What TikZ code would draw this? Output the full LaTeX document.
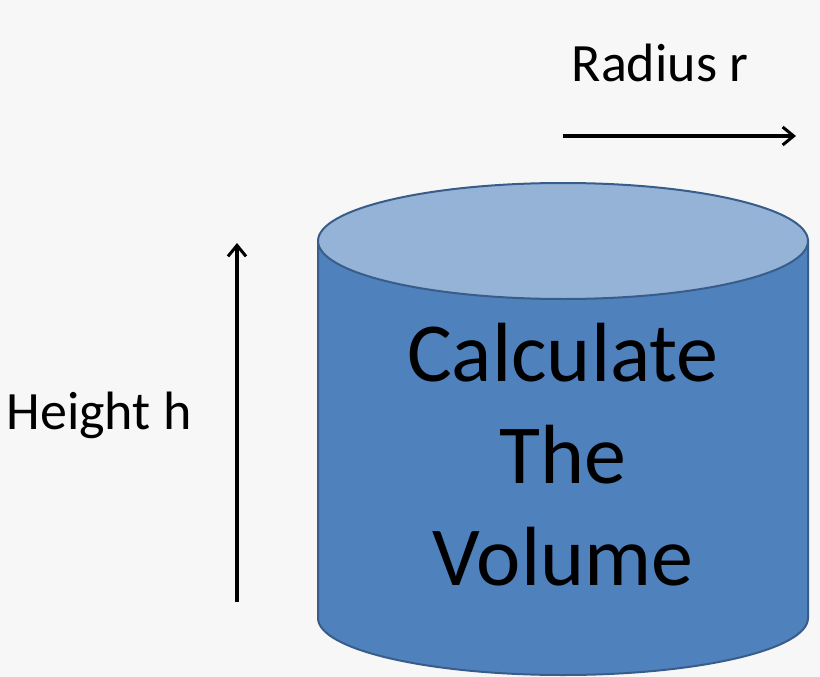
\documentclass[tikz,border=0pt]{standalone}
\usepackage{fontspec}
\setmainfont{Carlito}
\usetikzlibrary{arrows.meta}
\definecolor{bg}{HTML}{F7F7F7}
\definecolor{body}{HTML}{4F81BD}
\definecolor{topc}{HTML}{95B3D7}
\definecolor{edge}{HTML}{385D8A}
\begin{document}
\begin{tikzpicture}[x=1pt,y=-1pt,
  arr/.style={line width=3.5pt,-{Straight Barb[length=11pt,width=18pt,line width=3pt]}},
  lbl/.style={font=\fontsize{54}{60}\selectfont},
  big/.style={font=\fontsize{84}{102}\selectfont,align=center}]
\fill[bg] (0,0) rectangle (820,677);
\useasboundingbox (0,0) rectangle (820,677);
\draw[edge,line width=2pt,fill=body] (318,241) -- (318,618) arc[start angle=180,end angle=0,x radius=245,y radius=57] -- (808,241) -- cycle;
\draw[edge,line width=2pt,fill=topc] (563,241) ellipse[x radius=245,y radius=58];
\node[big] (t) at (563,455) {Calculate\\The\\Volume};
\coordinate (h0) at (237,602);
\coordinate (h1) at (237,243);
\draw[arr] (h0) -- (h1);
\coordinate (r0) at (563,136);
\coordinate (r1) at (796,136);
\draw[arr] (r0) -- (r1);
\node[lbl] (hl) at (99,415) {Height h};
\node[lbl] (rl) at (660,63) {Radius r};
\end{tikzpicture}
\end{document}
